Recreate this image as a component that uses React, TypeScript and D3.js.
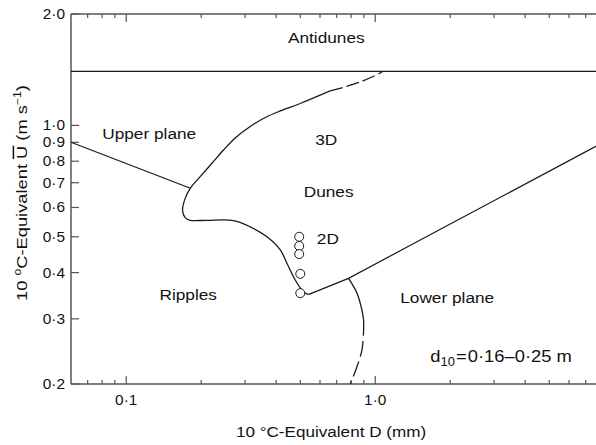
import React from 'react';
import * as d3 from 'd3';

// tick values and labels
const xTickMajor = [0.1, 1.0];
const xTickMinor = [0.07, 0.08, 0.09, 0.2, 0.3, 0.4, 0.5, 0.6, 0.7, 0.8, 0.9, 2, 3, 4, 5, 6, 7];
const xTickLabels = ['0·1', '1·0'];
const yTicks = [0.2, 0.3, 0.4, 0.5, 0.6, 0.7, 0.8, 0.9, 1.0, 2.0];
const yTickLabels = ['0·2', '0·3', '0·4', '0·5', '0·6', '0·7', '0·8', '0·9', '1·0', '2·0'];

// bedform boundaries, [D (mm), U (m/s)]
const antidunesLimit = 1.4;
const upperPlaneLine: [number, number][] = [[0.06, 0.9], [0.181, 0.676]];
const dunesDashed: [number, number][] = [[0.659, 1.239], [0.871, 1.31], [1.067, 1.394]];
const dunesSolid: [number, number][] = [
  [0.659, 1.239], [0.4996, 1.146], [0.4155, 1.094], [0.3615, 1.05], [0.3147, 0.993],
  [0.274, 0.925], [0.2459, 0.858], [0.2209, 0.79], [0.1982, 0.727], [0.1807, 0.676],
  [0.1725, 0.635], [0.1683, 0.59], [0.1725, 0.563], [0.1807, 0.554], [0.211, 0.554],
  [0.2697, 0.553], [0.3147, 0.532], [0.3673, 0.5], [0.4155, 0.461], [0.4419, 0.424],
  [0.4772, 0.382], [0.5077, 0.359], [0.5317, 0.35], [0.557, 0.352]
];
const lowerPlaneLine: [number, number][] = [[0.557, 0.352], [0.781, 0.386], [1.516, 0.49], [8.0, 0.89]];
const lowerSolid: [number, number][] = [[0.781, 0.386], [0.845, 0.352], [0.884, 0.317], [0.898, 0.298]];
const lowerDashed: [number, number][] = [[0.898, 0.298], [0.898, 0.28], [0.884, 0.247], [0.845, 0.223], [0.794, 0.2]];

// 2D dune runs
const runsD = [0.495, 0.495, 0.495, 0.5, 0.5];
const runsU = [0.5, 0.472, 0.449, 0.397, 0.352];

const font = 'Liberation Sans, Arial, Helvetica, sans-serif';

const T = ({ x, y, size, anchor = 'start', sx = 1.15, rotate = 0, children }: any) => (
  <text
    transform={`translate(${x},${y})${rotate ? ` rotate(${rotate})` : ''} scale(${sx},1)`}
    fontSize={size}
    textAnchor={anchor}
    fontFamily={font}
    fill="#111"
  >
    {children}
  </text>
);

export default function App() {
  const left = 71, top = 14, bottom = 384;
  const x = d3.scaleLog().domain([0.06, 8]).range([left, left + 249 * Math.log10(8 / 0.06)]);
  const y = d3.scaleLog().domain([0.2, 2]).range([bottom, top]);
  const right = x(8);

  const smooth = d3.line<[number, number]>().x(d => x(d[0])).y(d => y(d[1])).curve(d3.curveCatmullRom.alpha(0.5));
  const straight = d3.line<[number, number]>().x(d => x(d[0])).y(d => y(d[1]));

  const axisColor = '#555';
  const lineColor = '#1a1a1a';

  return (
    <svg width={596} height={445} style={{ position: 'absolute', left: 0, top: 0, background: '#fff' }}>
      {/* frame */}
      <line x1={left} x2={right} y1={top} y2={top} stroke={axisColor} strokeWidth={1.5} />
      <line x1={left} x2={right} y1={bottom} y2={bottom} stroke={axisColor} strokeWidth={1.5} />
      <line x1={left} x2={left} y1={top} y2={bottom} stroke={axisColor} strokeWidth={1.5} />

      {/* x ticks, top and bottom, inward */}
      {xTickMajor.map(v => (
        <g key={'M' + v}>
          <line x1={x(v)} x2={x(v)} y1={bottom} y2={bottom - 8} stroke={axisColor} strokeWidth={1.2} />
          <line x1={x(v)} x2={x(v)} y1={top} y2={top + 8} stroke={axisColor} strokeWidth={1.2} />
        </g>
      ))}
      {xTickMinor.map(v => (
        <g key={'m' + v}>
          <line x1={x(v)} x2={x(v)} y1={bottom} y2={bottom - 4} stroke={axisColor} strokeWidth={1.2} />
          <line x1={x(v)} x2={x(v)} y1={top} y2={top + 4} stroke={axisColor} strokeWidth={1.2} />
        </g>
      ))}
      {xTickMajor.map((v, i) => (
        <T key={'xl' + v} x={x(v)} y={405} size={14} anchor="middle" sx={1.1}>{xTickLabels[i]}</T>
      ))}

      {/* y ticks */}
      {yTicks.map((v, i) => (
        <g key={'y' + v}>
          <line x1={left} x2={left + 8} y1={y(v)} y2={y(v)} stroke={axisColor} strokeWidth={1.2} />
          <T x={65} y={y(v) + 5} size={14} anchor="end" sx={1.1}>{yTickLabels[i]}</T>
        </g>
      ))}

      {/* boundaries */}
      <line x1={left} x2={right} y1={y(antidunesLimit)} y2={y(antidunesLimit)} stroke={lineColor} strokeWidth={1.3} />
      <path d={straight(upperPlaneLine) || ''} fill="none" stroke={lineColor} strokeWidth={1.2} />
      <path d={smooth(dunesSolid) || ''} fill="none" stroke={lineColor} strokeWidth={1.3} />
      <path d={smooth(dunesDashed) || ''} fill="none" stroke={lineColor} strokeWidth={1.3} strokeDasharray="13,4" />
      <path d={straight(lowerPlaneLine) || ''} fill="none" stroke={lineColor} strokeWidth={1.2} />
      <path d={smooth(lowerSolid) || ''} fill="none" stroke={lineColor} strokeWidth={1.3} />
      <path d={smooth(lowerDashed) || ''} fill="none" stroke={lineColor} strokeWidth={1.3} strokeDasharray="16,5" />

      {/* 2D dune runs */}
      {runsU.map((u, i) => (
        <circle key={'c' + i} cx={x(runsD[i])} cy={y(u)} r={4.5} fill="#fff" stroke={lineColor} strokeWidth={1} />
      ))}

      {/* region labels */}
      <T x={x(0.636)} y={y(1.67)} size={15} anchor="middle">Antidunes</T>
      <T x={x(0.0801)} y={y(0.919)} size={15}>Upper plane</T>
      <T x={x(0.636)} y={y(0.885)} size={15} anchor="middle">3D</T>
      <T x={x(0.65)} y={y(0.64)} size={15} anchor="middle">Dunes</T>
      <T x={x(0.645)} y={y(0.478)} size={15} anchor="middle">2D</T>
      <T x={x(0.1774)} y={y(0.337)} size={15} anchor="middle">Ripples</T>
      <T x={x(1.26)} y={y(0.331)} size={15}>Lower plane</T>
      <T x={x(1.663)} y={y(0.229)} size={17} sx={1.08}>
        d<tspan fontSize={12} dy={4}>10</tspan>
        <tspan dy={-4} dx={1}>=</tspan>
        <tspan dx={1}>0·16–0·25 m</tspan>
      </T>

      {/* axis titles */}
      <T x={331} y={437} size={14.5} anchor="middle" sx={1.18}>10 °C-Equivalent D (mm)</T>
      <T x={27} y={193} size={15} anchor="middle" sx={1.22} rotate={-90}>
        10 <tspan fontSize={10} dy={-6}>o</tspan>
        <tspan dy={6}>C-Equivalent </tspan>
        <tspan style={{ textDecoration: 'overline' }}>U</tspan> (m s
        <tspan fontSize={10} dy={-6}>−1</tspan>
        <tspan dy={6}>)</tspan>
      </T>
    </svg>
  );
}
